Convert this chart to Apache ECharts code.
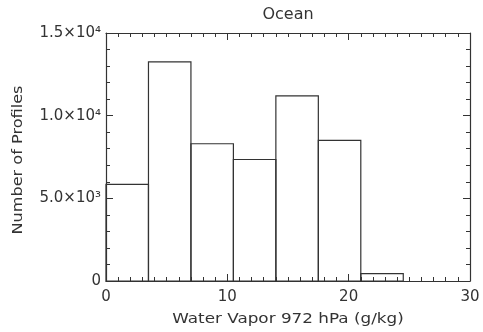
<!DOCTYPE html>
<html>
<head>
<meta charset="utf-8">
<script src="https://cdn.jsdelivr.net/npm/echarts@6/dist/echarts.min.js"></script>
<style>
  html, body { margin: 0; padding: 0; background: #fff; }
  #chart { width: 483px; height: 332px; }
</style>
</head>
<body>
<div id="chart"></div>
<script>
// Histogram of 972 hPa water vapour over ocean
const binEdges = [0, 3.5, 7, 10.5, 14, 17.5, 21, 24.5];
const counts = [5850, 13250, 8300, 7350, 11200, 8500, 450];
const yTickValues = [0, 5000, 10000, 15000];
const yTickLabels = ['0', '5.0×10³', '1.0×10⁴', '1.5×10⁴'];
const titleText = 'Ocean';
const xTitle = 'Water Vapor 972 hPa (g/kg)';
const yTitle = 'Number of Profiles';

const ink = '#333';
const font = 'DejaVu Sans';

const bins = counts.map((c, i) => [binEdges[i], binEdges[i + 1], c]);

const chart = echarts.init(document.getElementById('chart'), null, { renderer: 'canvas' });

const line = { show: true, onZero: false, lineStyle: { color: ink, width: 1.2 } };
const tick = { show: true, inside: true, length: 7, lineStyle: { color: ink, width: 1 } };
const minor = n => ({ show: true, splitNumber: n, length: 4, lineStyle: { color: ink, width: 1 } });

// wide, plot-style lettering for the titles
const wideText = (text, x, y, size, sx, rot) => ({
  type: 'text', x, y, rotation: rot || 0, scaleX: sx,
  style: { text, fill: ink, font: size + 'px "' + font + '"', align: 'center', verticalAlign: 'middle' }
});

chart.setOption({
  animation: false,
  grid: { left: 106, right: 13, top: 33, bottom: 51 },
  xAxis: [
    {
      type: 'value', min: 0, max: 30, interval: 10, position: 'bottom',
      axisLine: line, axisTick: tick, minorTick: minor(10), splitLine: { show: false },
      axisLabel: { fontFamily: font, fontSize: 15, color: ink, margin: 9 }
    },
    {
      type: 'value', min: 0, max: 30, interval: 10, position: 'top',
      axisLine: line, axisTick: tick, minorTick: minor(10), splitLine: { show: false },
      axisLabel: { show: false }
    }
  ],
  yAxis: [
    {
      type: 'value', min: 0, max: 15000, interval: 5000, position: 'left',
      axisLine: line, axisTick: tick, minorTick: minor(5), splitLine: { show: false },
      axisLabel: {
        fontFamily: font, fontSize: 15, color: ink, margin: 5,
        formatter: v => { const k = yTickValues.indexOf(v); return k >= 0 ? yTickLabels[k] : ''; }
      }
    },
    {
      type: 'value', min: 0, max: 15000, interval: 5000, position: 'right',
      axisLine: line, axisTick: tick, minorTick: minor(5), splitLine: { show: false },
      axisLabel: { show: false }
    }
  ],
  graphic: [
    wideText(titleText, 288, 15, 16, 1),
    wideText(xTitle, 288, 319, 14, 1.2),
    wideText(yTitle, 18, 160, 14, 1.15, Math.PI / 2)
  ],
  series: [{
    type: 'custom',
    xAxisIndex: 0, yAxisIndex: 0,
    data: bins,
    encode: { x: [0, 1], y: 2 },
    renderItem: (params, api) => {
      const p0 = api.coord([api.value(0), api.value(2)]);
      const p1 = api.coord([api.value(1), 0]);
      return {
        type: 'rect',
        shape: { x: p0[0], y: p0[1], width: p1[0] - p0[0], height: p1[1] - p0[1] },
        style: { fill: 'none', stroke: ink, lineWidth: 1.2 }
      };
    }
  }]
});
</script>
</body>
</html>
